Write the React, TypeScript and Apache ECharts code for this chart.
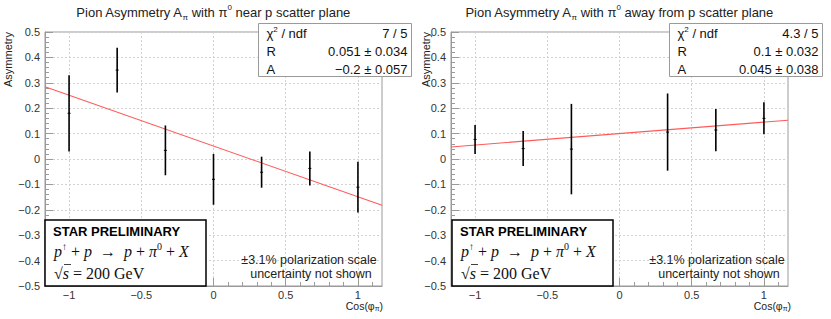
import React, { useEffect, useRef } from 'react';
import * as echarts from 'echarts';

// ---- data ----
const cosNear = [-1, -0.667, -0.333, 0, 0.333, 0.667, 1];
const asymNear = [0.18, 0.35, 0.034, -0.08, -0.052, -0.037, -0.111];
const errNear = [0.15, 0.088, 0.098, 0.1, 0.061, 0.067, 0.1];

const cosAway = [-1, -0.667, -0.333, 0.333, 0.667, 1];
const asymAway = [0.077, 0.041, 0.039, 0.106, 0.114, 0.16];
const errAway = [0.057, 0.069, 0.178, 0.152, 0.083, 0.063];

const fitR = [0.051, 0.1];
const fitA = [-0.2, 0.045];
const fitChi2 = ['7 / 5', '4.3 / 5'];
const fitRText = ['0.051 ± 0.034', '0.1 ± 0.032'];
const fitAText = ['−0.2 ± 0.057', '0.045 ± 0.038'];
const titleSuffix = [' near p scatter plane', ' away from p scatter plane'];

const xRange = [-7 / 6, 7 / 6];
const xMajorTicks = [-1, -0.5, 0, 0.5, 1];
const xMinorTicks = [-1.1, -0.9, -0.8, -0.7, -0.6, -0.4, -0.3, -0.2, -0.1, 0.1, 0.2, 0.3, 0.4, 0.6, 0.7, 0.8, 0.9, 1.1];
const yRange = [-0.5, 0.5];
const yStep = 0.1;

// ---- layout ----
const FONT = '"Liberation Sans", Arial, Helvetica, sans-serif';
const SERIF = '"Liberation Serif", "DejaVu Serif", serif';
const panels = [
  { gridLeft: 45, titleX: 213, statsX: 258.5, legendX: 45, noteX: 309, yTitleX: 8, xTitleRight: 383 },
  { gridLeft: 451, titleX: 619, statsX: 669.5, legendX: 452, noteX: 717, yTitleX: 426, xTitleRight: 791 },
];
const GRID_TOP = 32;
const GRID_W = 337;
const GRID_H = 254;

const minus = (v: number) => {
  const s = String(Math.round(v * 1000) / 1000);
  return s.replace('-', '−');
};

const errRender = (params: any, api: any) => {
  const x = api.value(0);
  const y = api.value(1);
  const e = api.value(2);
  const top = api.coord([x, y + e]);
  const bot = api.coord([x, y - e]);
  const c = api.coord([x, y]);
  return {
    type: 'group',
    children: [
      { type: 'line', shape: { x1: top[0], y1: top[1], x2: bot[0], y2: bot[1] }, style: { stroke: '#000', lineWidth: 1.6 } },
      { type: 'line', shape: { x1: c[0] - 1.5, y1: c[1], x2: c[0] + 1.5, y2: c[1] }, style: { stroke: '#000', lineWidth: 1 } },
    ],
  };
};

export default function App() {
  const ref = useRef<HTMLDivElement>(null);
  useEffect(() => {
    if (!ref.current) return;
    const chart = echarts.init(ref.current, undefined, { renderer: 'svg' });

    const grids: any[] = [];
    const xAxes: any[] = [];
    const yAxes: any[] = [];
    const series: any[] = [];
    const graphics: any[] = [];

    const datasets = [
      { cos: cosNear, asym: asymNear, err: errNear },
      { cos: cosAway, asym: asymAway, err: errAway },
    ];

    panels.forEach((p, i) => {
      grids.push({
        left: p.gridLeft, top: GRID_TOP, width: GRID_W, height: GRID_H,
        show: true, borderColor: '#9a9a9a', borderWidth: 1, backgroundColor: 'transparent',
      });
      // major x axis
      xAxes.push({
        type: 'value', gridIndex: i, min: xRange[0], max: xRange[1], position: 'bottom',
        axisLine: { show: true, onZero: false, lineStyle: { color: '#9a9a9a', width: 1 } },
        axisTick: { show: true, inside: true, length: 8, customValues: xMajorTicks, lineStyle: { color: '#9a9a9a' } },
        axisLabel: {
          show: true, customValues: xMajorTicks, margin: 3, fontSize: 11, color: '#333', fontFamily: FONT,
          formatter: (v: number) => minus(v),
        },
        splitLine: { show: true, lineStyle: { color: '#d2d2d2', type: [2, 2], width: 1 } },
      });
      // minor x axis
      xAxes.push({
        type: 'value', gridIndex: i, min: xRange[0], max: xRange[1], position: 'bottom',
        axisLine: { show: false, onZero: false },
        axisTick: { show: true, inside: true, length: 4, customValues: xMinorTicks, lineStyle: { color: '#9a9a9a' } },
        axisLabel: { show: false },
        splitLine: { show: false },
      });
      yAxes.push({
        type: 'value', gridIndex: i, min: yRange[0], max: yRange[1], interval: yStep,
        axisLine: { show: true, onZero: false, lineStyle: { color: '#9a9a9a', width: 1 } },
        axisTick: { show: true, inside: true, length: 8, lineStyle: { color: '#9a9a9a' } },
        minorTick: { show: true, splitNumber: 5, length: 4, lineStyle: { color: '#9a9a9a' } },
        axisLabel: { fontSize: 11, color: '#333', fontFamily: FONT, margin: 5, formatter: (v: number) => minus(v) },
        splitLine: { show: true, lineStyle: { color: '#d2d2d2', type: [2, 2], width: 1 } },
      });

      const d = datasets[i];
      series.push({
        type: 'line', xAxisIndex: i * 2, yAxisIndex: i, showSymbol: false, silent: true,
        lineStyle: { color: '#ff5a5a', width: 1.1 },
        data: xRange.map((x) => [x, fitR[i] + fitA[i] * x]),
        z: 3,
      });
      series.push({
        type: 'custom', xAxisIndex: i * 2, yAxisIndex: i, renderItem: errRender,
        encode: { x: 0, y: 1 },
        data: d.cos.map((c, k) => [c, d.asym[k], d.err[k]]),
        z: 4,
      });

      // title
      graphics.push({
        type: 'text', x: p.titleX, y: 12,
        style: {
          text: '{r|Pion Asymmetry A}{sub|π}{r| with π}{sup|0}{r|' + titleSuffix[i] + '}',
          align: 'center', verticalAlign: 'middle', fill: '#222',
          rich: {
            r: { fontSize: 13, fontFamily: FONT, fill: '#222', verticalAlign: 'middle', lineHeight: 18 },
            sub: { fontSize: 8, fontFamily: FONT, fill: '#222', verticalAlign: 'bottom', lineHeight: 18 },
            sup: { fontSize: 8, fontFamily: FONT, fill: '#222', verticalAlign: 'top', lineHeight: 18 },
          },
        },
      });
      // stats box
      graphics.push({
        type: 'rect', shape: { x: p.statsX, y: 23.5, width: 153, height: 53 },
        style: { fill: '#fff', stroke: '#9a9a9a', lineWidth: 1 }, z: 10,
      });
      const rowsL = ['{r|χ}{sup|2}{r| / ndf}', '{r|R}', '{r|A}'];
      const rowsR = [fitChi2[i], fitRText[i], fitAText[i]];
      const rowY = [33, 51, 69];
      rowsL.forEach((t, k) => {
        graphics.push({
          type: 'text', x: p.statsX + 8, y: rowY[k], z: 11,
          style: {
            text: t, align: 'left', verticalAlign: 'middle',
            rich: {
              r: { fontSize: 13, fontFamily: FONT, fill: '#111', verticalAlign: 'middle', lineHeight: 16 },
              sup: { fontSize: 8, fontFamily: FONT, fill: '#111', verticalAlign: 'top', lineHeight: 16 },
            },
          },
        });
        graphics.push({
          type: 'text', x: p.statsX + 149, y: rowY[k], z: 11,
          style: { text: rowsR[k], align: 'right', verticalAlign: 'middle', fontSize: 13, fontFamily: FONT, fill: '#111' },
        });
      });
      // legend box
      graphics.push({
        type: 'rect', shape: { x: p.legendX, y: 220, width: 161, height: 66 },
        style: { fill: '#fff', stroke: '#000', lineWidth: 1.5 }, z: 10,
      });
      graphics.push({
        type: 'text', x: p.legendX + 8, y: 231, z: 11,
        style: { text: 'STAR PRELIMINARY', align: 'left', verticalAlign: 'middle', fontSize: 13, fontWeight: 'bold', fontFamily: FONT, fill: '#000' },
      });
      const serifRich = {
        i: { fontSize: 16, fontFamily: SERIF, fontStyle: 'italic', fill: '#111', verticalAlign: 'middle', lineHeight: 20 },
        r: { fontSize: 16, fontFamily: SERIF, fill: '#111', verticalAlign: 'middle', lineHeight: 20 },
        s: { fontSize: 10, fontFamily: SERIF, fill: '#111', verticalAlign: 'top', lineHeight: 20 },
      };
      graphics.push({
        type: 'text', x: p.legendX + 9, y: 251, z: 11,
        style: {
          text: '{i|p}{s|↑}{r| + }{i|p}{r|  →  }{i|p}{r| + }{i|π}{s|0}{r| + }{i|X}',
          align: 'left', verticalAlign: 'middle', rich: serifRich,
        },
      });
      graphics.push({
        type: 'text', x: p.legendX + 9, y: 273, z: 11,
        style: { text: '{r|√}{i|s}{r| = 200 GeV}', align: 'left', verticalAlign: 'middle', rich: serifRich },
      });
      graphics.push({
        type: 'line', shape: { x1: p.legendX + 19, y1: 264.5, x2: p.legendX + 26, y2: 264.5 },
        style: { stroke: '#111', lineWidth: 0.8 }, z: 11,
      });
      // note
      graphics.push({
        type: 'text', x: p.noteX, y: 260, z: 11,
        style: { text: '±3.1% polarization scale', align: 'center', verticalAlign: 'middle', fontSize: 12.5, fontFamily: FONT, fill: '#222' },
      });
      graphics.push({
        type: 'text', x: p.noteX + 2, y: 274, z: 11,
        style: { text: 'uncertainty not shown', align: 'center', verticalAlign: 'middle', fontSize: 12.5, fontFamily: FONT, fill: '#222' },
      });
      // y title
      graphics.push({
        type: 'text', x: p.yTitleX, y: 32, rotation: Math.PI / 2, z: 11,
        style: { text: 'Asymmetry', align: 'right', verticalAlign: 'middle', fontSize: 11, fontFamily: FONT, fill: '#222' },
      });
      // x title
      graphics.push({
        type: 'text', x: p.xTitleRight, y: 306, z: 11,
        style: {
          text: '{r|Cos(φ}{sub|π}{r|)}', align: 'right', verticalAlign: 'middle',
          rich: {
            r: { fontSize: 10.5, fontFamily: FONT, fill: '#222', verticalAlign: 'middle', lineHeight: 11 },
            sub: { fontSize: 7, fontFamily: FONT, fill: '#222', verticalAlign: 'bottom', lineHeight: 11 },
          },
        },
      });
    });

    chart.setOption({
      animation: false,
      backgroundColor: '#fff',
      grid: grids,
      xAxis: xAxes,
      yAxis: yAxes,
      series,
      graphic: { elements: graphics },
    });
    return () => chart.dispose();
  }, []);
  return <div ref={ref} style={{ position: 'absolute', left: 0, top: 0, width: 831, height: 319 }} />;
}
